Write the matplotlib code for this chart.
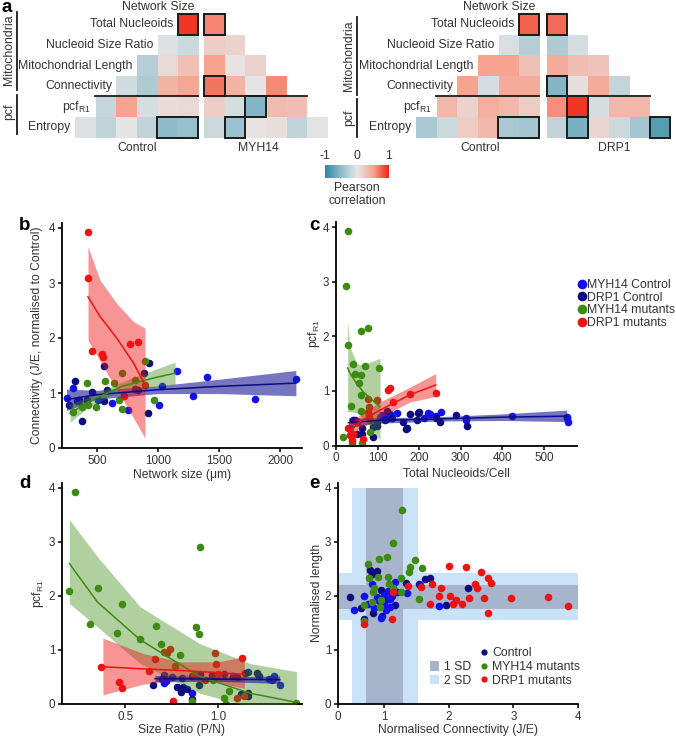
import matplotlib
matplotlib.use('Agg')
import numpy as np
import matplotlib.pyplot as plt
from matplotlib.colors import LinearSegmentedColormap, Normalize
from matplotlib.patches import Rectangle, Patch
from matplotlib.lines import Line2D
from matplotlib.cm import ScalarMappable

plt.rcParams['font.family'] = ['Liberation Sans', 'DejaVu Sans']
plt.rcParams['axes.unicode_minus'] = False

# ---- a) correlation triangles (lower triangle rows, columns from Network Size on)
var_names = ['Network Size', 'Total Nucleoids', 'Nucleoid Size Ratio', 'Mitochondrial Length',
             'Connectivity', 'pcf$_{\\mathregular{R1}}$', 'Entropy']
ctrl_myh14 = [[0.92],
              [-0.15, -0.05],
              [0.28, 0.10, -0.28],
              [0.48, 0.38, -0.32, -0.12],
              [0.10, 0.08, -0.10, 0.50, -0.18],
              [-0.45, -0.50, -0.22, 0.0, -0.22, -0.05]]
mut_myh14 = [[0.62],
             [0.18, 0.15],
             [0.50, 0.02, 0.15],
             [0.68, 0.38, 0.0, 0.60],
             [0.18, -0.10, -0.55, 0.32, 0.30],
             [-0.15, -0.42, 0.02, 0.06, -0.22, -0.02]]
ctrl_drp1 = [[0.75],
             [-0.28, -0.08],
             [0.28, 0.50, 0.50],
             [0.45, 0.45, -0.10, 0.50],
             [0.20, 0.35, 0.42, 0.15, 0.35],
             [-0.38, -0.35, 0.35, 0.20, -0.15, -0.35]]
mut_drp1 = [[0.72],
            [-0.32, -0.10],
            [0.45, 0.30, 0.25],
            [-0.55, 0.05, 0.45, -0.20],
            [0.58, 0.92, -0.10, 0.35, 0.35],
            [-0.22, -0.60, 0.12, -0.15, -0.38, -0.78]]
# boxed (significant) cells: (row variable, first column, number of columns)
box_ctrl_myh14 = [(1, 0, 1), (6, 0, 2)]
box_mut_myh14 = [(1, 0, 1), (4, 0, 1), (5, 2, 1), (6, 1, 1)]
box_ctrl_drp1 = [(1, 0, 1), (6, 0, 2)]
box_mut_drp1 = [(1, 0, 1), (4, 0, 1), (5, 1, 1), (6, 1, 1), (6, 5, 1)]

# ---- b) connectivity vs network size
b_myh14_ctrl_x = [306, 251, 511, 620, 752, 1008, 1035, 1153, 1290, 1399, 1795, 2132, 340]
b_myh14_ctrl_y = [1.10, 0.91, 0.88, 0.81, 0.69, 0.78, 1.12, 1.40, 0.95, 1.30, 0.89, 1.25, 0.86]
b_drp1_ctrl_x = [320, 270, 352, 456, 557, 557, 380, 921, 926, 885, 811, 833, 416, 580]
b_drp1_ctrl_y = [1.21, 0.79, 0.87, 1.01, 1.49, 0.85, 0.50, 0.64, 1.55, 1.37, 1.07, 1.06, 0.87, 1.06]
b_myh14_mut_x = [300, 374, 420, 429, 489, 566, 642, 680, 703, 703, 811, 893, 967]
b_myh14_mut_y = [0.65, 0.75, 1.19, 0.78, 0.75, 1.22, 1.19, 0.88, 0.71, 1.37, 1.24, 1.59, 0.88]
b_drp1_mut_x = [426, 426, 459, 541, 545, 771, 836, 721, 890]
b_drp1_mut_y = [3.93, 3.10, 1.76, 1.71, 1.65, 1.89, 1.93, 0.94, 1.15]
b_red_fit_x = [426, 525, 661, 798, 893]
b_red_fit_y = [2.75, 2.39, 2.00, 1.55, 1.15]
b_red_fit_lo = [1.96, 1.58, 1.06, 0.55, 0.18]
b_red_fit_hi = [3.66, 3.05, 2.63, 2.30, 2.18]
b_green_fit_x = [280, 429, 703, 976, 1140]
b_green_fit_y = [0.63, 0.84, 1.12, 1.28, 1.36]
b_green_fit_lo = [0.47, 0.74, 1.04, 1.12, 1.15]
b_green_fit_hi = [0.80, 0.93, 1.20, 1.43, 1.56]
b_navy_fit_x = [250, 500, 1000, 1500, 2130]
b_navy_fit_y = [0.88, 0.97, 1.06, 1.12, 1.18]
b_navy_fit_lo = [0.68, 0.89, 0.99, 0.99, 0.95]
b_navy_fit_hi = [1.07, 1.05, 1.13, 1.25, 1.41]

# ---- c) pcf vs total nucleoids
c_myh14_ctrl_x = [110, 146, 222, 252, 312, 424, 555, 556, 558, 226, 212, 314, 106, 126, 130, 240]
c_myh14_ctrl_y = [0.56, 0.59, 0.59, 0.62, 0.51, 0.54, 0.53, 0.50, 0.44, 0.58, 0.50, 0.47, 0.53, 0.50, 0.58, 0.55]
c_drp1_ctrl_x = [42, 118, 134, 162, 168, 178, 194, 200, 240, 250, 288, 316, 62, 62, 50, 90, 98, 90,
                 122, 170, 198, 46, 98]
c_drp1_ctrl_y = [0.47, 0.47, 0.50, 0.44, 0.30, 0.57, 0.47, 0.62, 0.50, 0.44, 0.56, 0.35, 0.32, 0.22,
                 0.22, 0.16, 0.35, 0.34, 0.64, 0.32, 0.60, 0.47, 0.44]
c_myh14_mut_x = [28, 23, 30, 60, 76, 42, 46, 60, 70, 104, 56, 60, 36, 60, 34, 38, 62, 83, 18]
c_myh14_mut_y = [3.93, 2.92, 1.84, 2.10, 2.16, 1.49, 1.32, 1.30, 1.46, 1.43, 1.15, 0.93, 0.73, 0.64,
                 0.32, 0.04, 0.04, 0.25, 0.16]
c_drp1_mut_x = [126, 130, 138, 178, 240, 76, 98, 80, 78, 80, 50, 82, 30, 34, 42, 38, 66]
c_drp1_mut_y = [1.02, 1.05, 0.79, 0.95, 0.97, 0.85, 0.84, 0.71, 0.62, 0.52, 0.44, 0.47, 0.32, 0.20,
                0.22, 0.10, 0.12]
c_green_fit_x = [28, 34, 50, 66, 106]
c_green_fit_y = [1.42, 1.32, 1.13, 0.98, 0.71]
c_green_fit_lo = [0.62, 0.62, 0.60, 0.50, 0.10]
c_green_fit_hi = [2.26, 1.80, 1.50, 1.48, 1.60]
c_red_fit_x = [30, 60, 106, 178, 240]
c_red_fit_y = [0.25, 0.45, 0.65, 0.93, 1.11]
c_red_fit_lo = [0.12, 0.33, 0.52, 0.80, 0.90]
c_red_fit_hi = [0.40, 0.57, 0.80, 1.07, 1.32]
c_navy_fit_x = [30, 100, 250, 400, 555]
c_navy_fit_y = [0.42, 0.46, 0.49, 0.52, 0.54]
c_navy_fit_lo = [0.33, 0.41, 0.45, 0.46, 0.44]
c_navy_fit_hi = [0.51, 0.51, 0.53, 0.58, 0.65]

# ---- d) pcf vs size ratio
d_myh14_ctrl_x = [0.70, 0.706, 0.86, 1.16, 1.27, 1.29, 1.30, 1.33, 0.72]
d_myh14_ctrl_y = [0.47, 0.38, 0.20, 0.60, 0.47, 0.44, 0.51, 0.35, 0.42]
d_drp1_ctrl_x = [0.65, 0.78, 0.80, 0.81, 0.83, 0.894, 1.21, 1.22, 1.12, 1.16, 1.16, 0.706, 0.805,
                 0.86, 0.90, 0.966, 1.03, 1.08, 1.145, 1.10, 0.75, 0.86]
d_drp1_ctrl_y = [0.35, 0.31, 0.22, 0.31, 0.28, 0.35, 0.57, 0.51, 0.19, 0.15, 0.21, 0.54, 0.48,
                 0.52, 0.55, 0.54, 0.55, 0.52, 0.57, 0.50, 0.50, 0.10]
d_myh14_mut_x = [0.23, 0.20, 0.353, 0.31, 0.48, 0.455, 0.58, 0.667, 0.69, 0.796, 0.90, 0.88, 0.894,
                 0.765, 0.86, 1.03, 1.04, 1.055, 1.42, 0.97]
d_myh14_mut_y = [3.93, 2.09, 2.14, 1.49, 1.85, 1.32, 1.20, 1.44, 1.12, 0.91, 2.91, 1.43, 1.29,
                 0.70, 0.05, 0.12, 0.0, 0.24, 0.01, 0.44]
d_drp1_mut_x = [0.37, 0.48, 0.465, 0.625, 0.66, 0.706, 0.742, 0.724, 0.754, 0.984, 0.99, 1.13, 1.10,
                1.14, 0.87, 0.93, 1.0]
d_drp1_mut_y = [0.69, 0.29, 0.40, 0.61, 0.83, 0.97, 1.01, 0.94, 0.06, 0.95, 0.75, 0.85, 0.11,
                0.14, 0.54, 0.45, 0.55]
d_green_fit_x = [0.20, 0.35, 0.58, 0.90, 1.17, 1.42]
d_green_fit_y = [2.60, 1.89, 1.19, 0.51, 0.20, 0.03]
d_green_fit_lo = [1.86, 1.43, 0.75, 0.20, -0.05, -0.10]
d_green_fit_hi = [3.41, 2.73, 1.80, 1.12, 0.75, 0.60]
d_red_fit_x = [0.38, 0.6, 0.8, 1.0, 1.14]
d_red_fit_y = [0.69, 0.65, 0.62, 0.58, 0.55]
d_red_fit_lo = [0.17, 0.37, 0.46, 0.40, 0.29]
d_red_fit_hi = [1.22, 0.93, 0.78, 0.78, 0.88]
d_navy_fit_x = [0.66, 1.0, 1.33]
d_navy_fit_y = [0.47, 0.46, 0.45]
d_navy_fit_lo = [0.41, 0.42, 0.38]
d_navy_fit_hi = [0.53, 0.50, 0.52]

# ---- e) length vs connectivity
e_drp1_ctrl_x = [0.47, 0.63, 0.78, 0.89, 0.83, 0.96, 1.17, 1.34, 1.54, 1.63, 1.71, 1.96, 2.30, 0.68,
                 0.80, 1.05, 0.95, 1.12]
e_drp1_ctrl_y = [1.99, 1.78, 2.49, 2.46, 1.69, 1.63, 1.83, 2.25, 2.23, 2.31, 2.33, 1.84, 2.14, 1.57,
                 2.40, 1.95, 2.12, 2.00]
e_myh14_ctrl_x = [0.53, 0.68, 0.81, 0.94, 1.02, 1.09, 0.89, 0.99, 1.09, 1.19, 1.35, 1.17, 1.55, 1.84,
                  0.84, 0.99, 0.92, 1.05, 0.75, 1.13]
e_myh14_ctrl_y = [1.75, 2.00, 2.23, 1.59, 1.74, 1.80, 1.99, 2.02, 1.95, 2.08, 2.06, 2.26, 2.20, 1.81,
                  1.77, 1.86, 1.90, 2.10, 1.85, 2.15]
e_myh14_mut_x = [1.27, 1.14, 1.04, 0.91, 0.75, 1.48, 1.39, 1.38, 1.58, 0.90, 0.76, 1.05, 1.25, 1.07,
                 1.13, 0.84, 0.82, 1.25, 0.94, 0.80, 0.68, 0.93, 1.54, 0.68]
e_myh14_mut_y = [3.60, 2.98, 2.73, 2.68, 2.60, 2.67, 2.54, 2.44, 2.51, 2.36, 2.33, 2.36, 2.33, 2.23,
                 2.15, 2.14, 2.08, 2.08, 1.93, 1.89, 1.83, 1.80, 1.94, 1.54]
e_drp1_mut_x = [2.00, 2.26, 2.49, 2.60, 2.65, 2.40, 2.43, 1.74, 1.87, 1.57, 1.36, 1.85, 1.71, 2.02,
                2.06, 2.11, 2.20, 2.31, 2.54, 2.60, 2.96, 3.54, 3.85, 1.12, 0.68, 1.13]
e_drp1_mut_y = [2.56, 2.54, 2.44, 2.33, 2.25, 2.22, 2.15, 2.23, 2.15, 2.16, 2.19, 2.00, 1.86, 2.00,
                1.86, 1.93, 1.85, 1.97, 1.96, 1.68, 1.96, 1.98, 1.82, 1.57, 1.48, 2.08]
e_sd1_x = [0.72, 1.28]
e_sd2_x = [0.50, 1.52]
e_sd1_y = [1.76, 2.20]
e_sd2_y = [1.56, 2.43]

BLUE = '#1010f2'
NAVY = '#0c0c80'
GREEN = '#3e8b12'
RED = '#ee1212'
TXT = '#333333'
W, H = 676, 737
FS_HEAT = 8.8
FS_TICK = 8.4
FS_LAB = 8.7

cmap = LinearSegmentedColormap.from_list('pearson', [(0, '#2c86a0'), (0.25, '#8fbccb'), (0.5, '#e6e6e6'),
                                                     (0.75, '#f7a591'), (1, '#f0230f')])


def rect(l, t, r, b):
    return [l / W, 1 - b / H, (r - l) / W, (b - t) / H]


fig = plt.figure(figsize=(W / 100, H / 100), dpi=100)

# ---------------- panel a
axa = fig.add_axes([0, 1 - 152 / H, 1, 152 / H])
CW, CH, Y0 = 20.6, 20.6, 14.0


def triangle(rows, edge, mirror, boxes):
    n = 6
    grid = np.full((n, n), np.nan)
    for r, vals in enumerate(rows):
        for j, v in enumerate(vals):
            grid[r, n - 1 - j if mirror else j] = v
    x0 = edge - n * CW if mirror else edge
    axa.imshow(grid, cmap=cmap, vmin=-1, vmax=1, extent=(x0, x0 + n * CW, Y0 + n * CH, Y0),
               interpolation='nearest', aspect='auto')
    for var, j0, nc in boxes:
        k0 = n - (j0 + nc) if mirror else j0
        axa.add_patch(Rectangle((x0 + k0 * CW, Y0 + (var - 1) * CH), nc * CW, CH, fill=False,
                                lw=1.4, ec='#1a1a1a', zorder=3))
    if mirror:
        axa.plot([edge - 5 * CW, edge], [Y0 + 4 * CH] * 2, color='#1a1a1a', lw=1.3)
        for i, name in enumerate(var_names):
            y = 7.5 if i == 0 else Y0 + (i - 0.5) * CH
            axa.text(edge - i * CW - 4, y, name, ha='right', va='center', fontsize=FS_HEAT, color=TXT)
    else:
        axa.plot([edge, edge + 5 * CW], [Y0 + 4 * CH] * 2, color='#1a1a1a', lw=1.3)


triangle(ctrl_myh14, 198.3, True, box_ctrl_myh14)
triangle(mut_myh14, 204.0, False, box_mut_myh14)
triangle(ctrl_drp1, 539.3, True, box_ctrl_drp1)
triangle(mut_drp1, 546.7, False, box_mut_drp1)

for xl, xm, (t1, b1, t2, b2, ym, yp) in [(9, 17, (12, 90, 95, 134, 50, 112)),
                                        (349, 357, (17, 95, 99, 137, 56, 118))]:
    axa.plot([xm, xm], [t1, b1], color='#1a1a1a', lw=1.3)
    axa.plot([xm, xm], [t2, b2], color='#1a1a1a', lw=1.3)
    axa.text(xl, ym, 'Mitochondria', rotation=90, ha='center', va='center', fontsize=FS_HEAT, color=TXT)
    axa.text(xl, yp, 'pcf', rotation=90, ha='center', va='center', fontsize=FS_HEAT, color=TXT)
for x, lab in [(137, 'Control'), (258, 'MYH14'), (480, 'Control'), (614, 'DRP1')]:
    axa.text(x, 148, lab, ha='center', va='center', fontsize=FS_HEAT, color=TXT)
axa.set_xlim(0, W)
axa.set_ylim(152, 0)
axa.axis('off')

cax = fig.add_axes(rect(325, 165, 389, 178))
cb = fig.colorbar(ScalarMappable(norm=Normalize(-1, 1), cmap=cmap), cax=cax, orientation='horizontal',
                  ticks=[-1, 0, 1])
cb.outline.set_visible(False)
cax.xaxis.set_ticks_position('top')
cax.tick_params(length=0, labelsize=FS_HEAT, labelcolor=TXT, pad=2)
fig.text(357 / W, 1 - 188 / H, 'Pearson', ha='center', va='center', fontsize=FS_HEAT, color=TXT)
fig.text(357 / W, 1 - 201 / H, 'correlation', ha='center', va='center', fontsize=FS_HEAT, color=TXT)


def style(ax):
    for s in ['top', 'right']:
        ax.spines[s].set_visible(False)
    for s in ['left', 'bottom']:
        ax.spines[s].set_linewidth(1.3)
    ax.tick_params(direction='out', length=3, width=1.1, labelsize=FS_TICK, labelcolor=TXT, pad=1.8)


def fit(ax, x, y, lo, hi, color, band, alpha):
    ax.fill_between(x, lo, hi, color=band, alpha=alpha, lw=0, zorder=3)
    ax.plot(x, y, color=color, lw=1.1, zorder=4)


PS = 30

# ---------------- panel b
axb = fig.add_axes(rect(62, 222.5, 302, 448))
axb.scatter(b_myh14_ctrl_x, b_myh14_ctrl_y, s=PS, color=BLUE, lw=0, zorder=2)
axb.scatter(b_drp1_ctrl_x, b_drp1_ctrl_y, s=PS, color=NAVY, lw=0, zorder=2)
axb.scatter(b_myh14_mut_x, b_myh14_mut_y, s=PS, color=GREEN, lw=0, zorder=2)
axb.scatter(b_drp1_mut_x, b_drp1_mut_y, s=PS, color=RED, lw=0, zorder=2)
fit(axb, b_navy_fit_x, b_navy_fit_y, b_navy_fit_lo, b_navy_fit_hi, NAVY, '#1a1a9a', 0.6)
fit(axb, b_green_fit_x, b_green_fit_y, b_green_fit_lo, b_green_fit_hi, GREEN, GREEN, 0.4)
fit(axb, b_red_fit_x, b_red_fit_y, b_red_fit_lo, b_red_fit_hi, RED, RED, 0.45)
axb.set_xlim(213, 2180)
axb.set_ylim(0, 4.1)
axb.set_xticks([500, 1000, 1500, 2000])
axb.set_yticks([0, 1, 2, 3, 4])
style(axb)
axb.set_xlabel('Network size (μm)', fontsize=FS_LAB, color=TXT)
axb.set_ylabel('Connectivity (J/E, normalised to Control)', fontsize=FS_LAB, color=TXT)
axb.xaxis.set_label_coords(0.5, -0.092)
axb.yaxis.set_label_coords(-0.079, 0.5)

# ---------------- panel c
axc = fig.add_axes(rect(336, 221.7, 577, 445.6))
axc.scatter(c_myh14_ctrl_x, c_myh14_ctrl_y, s=PS, color=BLUE, lw=0, zorder=2)
axc.scatter(c_drp1_ctrl_x, c_drp1_ctrl_y, s=PS, color=NAVY, lw=0, zorder=2)
axc.scatter(c_myh14_mut_x, c_myh14_mut_y, s=PS, color=GREEN, lw=0, zorder=2)
axc.scatter(c_drp1_mut_x, c_drp1_mut_y, s=PS, color=RED, lw=0, zorder=2)
fit(axc, c_navy_fit_x, c_navy_fit_y, c_navy_fit_lo, c_navy_fit_hi, NAVY, '#1a1a9a', 0.6)
fit(axc, c_green_fit_x, c_green_fit_y, c_green_fit_lo, c_green_fit_hi, GREEN, GREEN, 0.4)
fit(axc, c_red_fit_x, c_red_fit_y, c_red_fit_lo, c_red_fit_hi, RED, RED, 0.45)
axc.set_xlim(0, 580)
axc.set_ylim(0, 4.1)
axc.set_xticks([0, 100, 200, 300, 400, 500])
axc.set_yticks([0, 1, 2, 3, 4])
style(axc)
axc.set_xlabel('Total Nucleoids/Cell', fontsize=FS_LAB, color=TXT)
axc.set_ylabel('pcf$_{\\mathregular{R1}}$', fontsize=FS_LAB, color=TXT)
axc.xaxis.set_label_coords(0.5, -0.1)
axc.yaxis.set_label_coords(-0.058, 0.5)

leg_c = [Line2D([], [], marker='o', ls='', color=c, markersize=7, markeredgewidth=0)
         for c in [BLUE, NAVY, GREEN, RED]]
fig.legend(leg_c, ['MYH14 Control', 'DRP1 Control', 'MYH14 mutants', 'DRP1 mutants'],
           loc='upper left', bbox_to_anchor=(577 / W, 1 - 279 / H), frameon=False, fontsize=8.8,
           handlelength=0.75, handletextpad=0.1, labelspacing=0.05, borderpad=0, borderaxespad=0,
           labelcolor=TXT)

# ---------------- panel d
axd = fig.add_axes(rect(62, 482.6, 302, 704))
axd.scatter(d_myh14_ctrl_x, d_myh14_ctrl_y, s=PS, color=BLUE, lw=0, zorder=2)
axd.scatter(d_drp1_ctrl_x, d_drp1_ctrl_y, s=PS, color=NAVY, lw=0, zorder=2)
axd.scatter(d_myh14_mut_x, d_myh14_mut_y, s=PS, color=GREEN, lw=0, zorder=2)
axd.scatter(d_drp1_mut_x, d_drp1_mut_y, s=PS, color=RED, lw=0, zorder=2)
fit(axd, d_green_fit_x, d_green_fit_y, d_green_fit_lo, d_green_fit_hi, GREEN, GREEN, 0.4)
fit(axd, d_red_fit_x, d_red_fit_y, d_red_fit_lo, d_red_fit_hi, RED, RED, 0.45)
fit(axd, d_navy_fit_x, d_navy_fit_y, d_navy_fit_lo, d_navy_fit_hi, NAVY, '#1a1a9a', 0.6)
axd.set_xlim(0.16, 1.45)
axd.set_ylim(0, 4.1)
axd.set_xticks([0.5, 1.0])
axd.set_xticklabels(['0.5', '1.0'])
axd.set_yticks([0, 1, 2, 3, 4])
style(axd)
axd.set_xlabel('Size Ratio (P/N)', fontsize=FS_LAB, color=TXT)
axd.set_ylabel('pcf$_{\\mathregular{R1}}$', fontsize=FS_LAB, color=TXT)
axd.xaxis.set_label_coords(0.5, -0.092)
axd.yaxis.set_label_coords(-0.067, 0.5)

# ---------------- panel e
axe = fig.add_axes(rect(338, 482.6, 578, 704))
axe.fill_betweenx([0, 4], e_sd2_x[0], e_sd2_x[1], color='#c9e2f7', lw=0, zorder=0)
axe.axhspan(e_sd2_y[0], e_sd2_y[1], color='#c9e2f7', lw=0, zorder=0)
axe.fill_betweenx([0, 4], e_sd1_x[0], e_sd1_x[1], color='#a6b5cc', lw=0, zorder=1)
axe.axhspan(e_sd1_y[0], e_sd1_y[1], color='#a6b5cc', lw=0, zorder=1)
axe.scatter(e_drp1_ctrl_x, e_drp1_ctrl_y, s=PS, color=NAVY, lw=0, zorder=2)
axe.scatter(e_myh14_ctrl_x, e_myh14_ctrl_y, s=PS, color=BLUE, lw=0, zorder=2)
axe.scatter(e_myh14_mut_x, e_myh14_mut_y, s=PS, color=GREEN, lw=0, zorder=2)
axe.scatter(e_drp1_mut_x, e_drp1_mut_y, s=PS, color=RED, lw=0, zorder=2)
axe.set_xlim(0.28, 4.0)
axe.set_ylim(0, 4.1)
axe.set_xticks([0.28, 1, 2, 3, 4])
axe.set_xticklabels(['0', '1', '2', '3', '4'])
axe.set_yticks([0, 1, 2, 3, 4])
style(axe)
axe.set_xlabel('Normalised Connectivity (J/E)', fontsize=FS_LAB, color=TXT)
axe.set_ylabel('Normalised length', fontsize=FS_LAB, color=TXT)
axe.xaxis.set_label_coords(0.5, -0.092)
axe.yaxis.set_label_coords(-0.0625, 0.5)

leg_pts = [Line2D([], [], marker='o', ls='', color=c, markersize=4.5, markeredgewidth=0)
           for c in [NAVY, GREEN, RED]]
fig.legend(leg_pts, ['Control', 'MYH14 mutants', 'DRP1 mutants'], loc='center left',
           bbox_to_anchor=(480 / W, 1 - 667 / H), frameon=False, fontsize=8.8, handlelength=0.7,
           handletextpad=0.3, labelspacing=0.13, borderpad=0, borderaxespad=0, labelcolor=TXT)
leg_sd = [Patch(color='#a6b5cc', lw=0), Patch(color='#c9e2f7', lw=0)]
fig.legend(leg_sd, ['1 SD', '2 SD'], loc='center left', bbox_to_anchor=(430 / W, 1 - 674 / H),
           frameon=False, fontsize=8.8, handlelength=0.75, handleheight=0.8, handletextpad=0.4,
           labelspacing=0.13, borderpad=0, borderaxespad=0, labelcolor=TXT)

for x, y, t in [(2, 7, 'a'), (19, 226, 'b'), (309, 226, 'c'), (19, 483, 'd'), (309, 483, 'e')]:
    fig.text(x / W, 1 - y / H, t, ha='left', va='center', fontsize=13.5, fontweight='bold')

fig.savefig('out.png', dpi=100)
